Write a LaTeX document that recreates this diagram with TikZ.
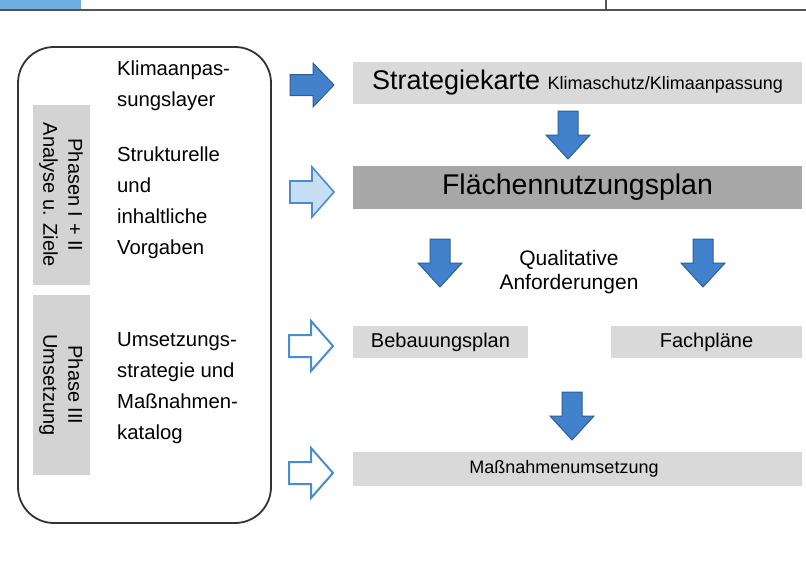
\documentclass[tikz,border=0pt]{standalone}
\usepackage{fontspec}
\setmainfont{Liberation Sans}
\definecolor{topblue}{HTML}{6DAEE2}
\definecolor{barline}{HTML}{555555}
\definecolor{arrfill}{HTML}{4282CC}
\definecolor{arrdraw}{HTML}{2F5E92}
\definecolor{lightfill}{HTML}{C6DFF3}
\definecolor{lightdraw}{HTML}{4B8BCF}
\definecolor{boxlight}{HTML}{D9D9D9}
\definecolor{boxdark}{HTML}{A7A7A7}
\definecolor{phasegray}{HTML}{D3D3D3}
\begin{document}
\begin{tikzpicture}[x=1pt,y=-1pt,
  rarr/.pic={\path[pic actions] (-22,-10.5) -- (1,-10.5) -- (1,-22) -- (22,0) -- (1,22) -- (1,10.5) -- (-22,10.5) -- cycle;},
  rarrbig/.pic={\path[pic actions] (-22,-11) -- (0,-11) -- (0,-25) -- (22,0) -- (0,25) -- (0,11) -- (-22,11) -- cycle;},
  darr/.pic={\path[pic actions] (-10,-24) -- (10,-24) -- (10,0) -- (22,0) -- (0,24) -- (-22,0) -- (-10,0) -- cycle;},
  solidarr/.style={fill=arrfill, draw=arrdraw, line width=1pt, line join=miter},
  lightarr/.style={fill=lightfill, draw=lightdraw, line width=1.6pt, line join=miter},
  openarr/.style={fill=white, draw=lightdraw, line width=2pt, line join=miter},
  graybox/.style={fill=boxlight, inner sep=0pt, font=\fontsize{20}{24}\selectfont},
  darkbox/.style={fill=boxdark, inner sep=0pt, font=\fontsize{28.5}{33}\selectfont},
  phasebox/.style={fill=phasegray, rotate=-90, align=center, inner sep=0pt, font=\fontsize{20}{25}\selectfont},
  lefttext/.style={anchor=west, align=left, inner sep=0pt, font=\fontsize{20.3}{31}\selectfont}
]
\useasboundingbox (0,0) rectangle (806,566);
% header
\fill[topblue] (0,0) rectangle (81,8.5);
\draw[barline, line width=2pt] (0,9.5) -- (806,9.5);
\draw[barline, line width=1.2pt] (606,0) -- (606,9);
% left frame
\node[draw=black!80, line width=1.8pt, rounded corners=36pt, minimum width=253pt, minimum height=476pt, inner sep=0pt] (frame) at (144.5,285) {};
\node[phasebox, minimum width=180pt, minimum height=57pt] (p12) at (61,195) {Phasen I + II\\Analyse u. Ziele};
\node[phasebox, minimum width=180pt, minimum height=57pt] (p3) at (61,385) {Phase III\\Umsetzung};
\node[lefttext] (t1) at (117,86) {Klimaanpas-\\sungslayer};
\node[lefttext] (t2) at (117,203) {Strukturelle\\und\\inhaltliche\\Vorgaben};
\node[lefttext] (t3) at (117,388) {Umsetzungs-\\strategie und\\Maßnahmen-\\katalog};
% right column boxes
\node[graybox, minimum width=449pt, minimum height=42pt] (strat) at (577.5,83)
  {\fontsize{27}{32}\selectfont Strategiekarte \fontsize{18}{21}\selectfont Klimaschutz/Klimaanpassung};
\node[darkbox, minimum width=449pt, minimum height=43pt] (fnp) at (577.5,187.5) {Flächennutzungsplan};
\node[align=center, inner sep=0pt, font=\fontsize{21}{24.5}\selectfont] (qual) at (569,272) {Qualitative\\Anforderungen};
\node[graybox, minimum width=175pt, minimum height=32pt] (bplan) at (440.5,342) {Bebauungsplan};
\node[graybox, minimum width=191pt, minimum height=32pt] (fach) at (706.5,342) {Fachpläne};
\node[graybox, minimum width=449pt, minimum height=34pt] (mass) at (577.5,469) {};
\node[inner sep=0pt, font=\fontsize{18}{22}\selectfont] (masstext) at (564,469) {Maßnahmenumsetzung};
% block arrows
\pic[solidarr] at (312,85) {rarr};
\pic[lightarr] at (312,192) {rarrbig};
\pic[openarr] at (311,346) {rarrbig};
\pic[openarr] at (311,473) {rarrbig};
\pic[solidarr] at (568,135) {darr};
\pic[solidarr] at (440,263) {darr};
\pic[solidarr] at (703,263) {darr};
\pic[solidarr] at (572,416) {darr};
\end{tikzpicture}
\end{document}
